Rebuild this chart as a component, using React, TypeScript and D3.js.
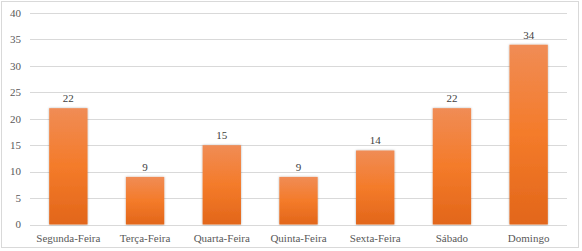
import React from "react";
import * as d3 from "d3";

const categories = ["Segunda-Feira", "Terça-Feira", "Quarta-Feira", "Quinta-Feira", "Sexta-Feira", "Sábado", "Domingo"];
const values = [22, 9, 15, 9, 14, 22, 34];
const yTicks = [0, 5, 10, 15, 20, 25, 30, 35, 40];

const W = 582;
const H = 251;
const margin = { left: 30, right: 15, top: 13, bottom: 26.5 };

export default function App() {
  const x = d3
    .scaleBand<string>()
    .domain(categories)
    .range([margin.left, W - margin.right])
    .paddingInner(0.5)
    .paddingOuter(0.25);
  const y = d3.scaleLinear().domain([0, 40]).range([H - margin.bottom, margin.top]);
  const font = "Liberation Serif, Times New Roman, Tinos, DejaVu Serif, serif";
  const textColor = "#595959";
  const ts: React.CSSProperties = { fontFamily: font };

  return (
    <svg
      width={W}
      height={H}
      style={{ position: "absolute", left: 0, top: 0, background: "#fff", fontFamily: font }}
    >
      <defs>
        <linearGradient id="barGrad" x1="0" y1="0" x2="0" y2="1">
          <stop offset="0%" stopColor="#f08c55" />
          <stop offset="50%" stopColor="#f47b2a" />
          <stop offset="100%" stopColor="#e2661a" />
        </linearGradient>
        <filter id="shadow" x="-20%" y="-10%" width="140%" height="120%">
          <feDropShadow dx="0" dy="0" stdDeviation="1" floodColor="#000" floodOpacity="0.3" />
        </filter>
      </defs>
      <rect x={1.5} y={1.5} width={577} height={246} fill="#fff" stroke="#d9d9d9" strokeWidth={1} />
      {yTicks.map((t) => (
        <g key={t}>
          <line
            x1={margin.left}
            x2={W - margin.right}
            y1={Math.round(y(t)) + 0.5}
            y2={Math.round(y(t)) + 0.5}
            stroke="#d9d9d9"
            strokeWidth={1}
          />
          <text x={21} y={y(t)} dy="0.35em" textAnchor="end" fontSize={11} fill={textColor} style={ts}>
            {t}
          </text>
        </g>
      ))}
      {categories.map((c, i) => (
        <g key={c}>
          <rect
            x={x(c)}
            y={y(values[i])}
            width={x.bandwidth()}
            height={y(0) - y(values[i])}
            fill="url(#barGrad)"
            filter="url(#shadow)"
          />
          <text
            x={(x(c) as number) + x.bandwidth() / 2}
            y={y(values[i]) - 6}
            textAnchor="middle"
            fontSize={11}
            fill="#404040"
            style={ts}
          >
            {values[i]}
          </text>
          <text
            x={(x(c) as number) + x.bandwidth() / 2}
            y={242}
            textAnchor="middle"
            fontSize={11}
            fill={textColor}
            style={ts}
          >
            {c}
          </text>
        </g>
      ))}
    </svg>
  );
}
